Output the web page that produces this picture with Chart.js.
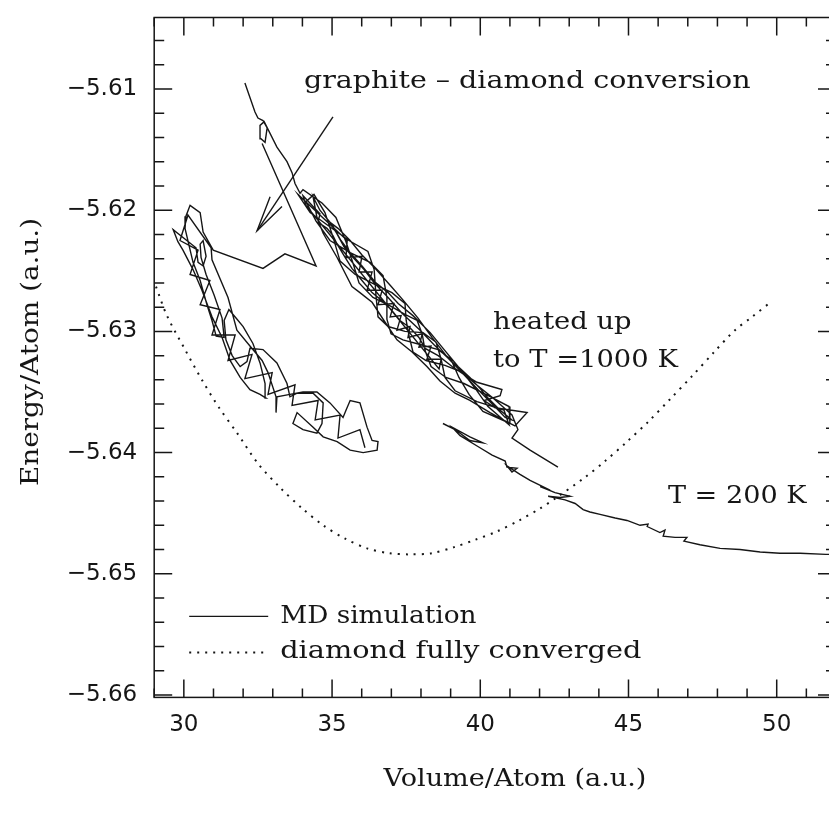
<!DOCTYPE html>
<html>
<head>
<meta charset="utf-8">
<title>Graphite - diamond conversion</title>
<script src="https://cdn.jsdelivr.net/npm/chart.js@4.4.1/dist/chart.umd.min.js"></script>
<style>
  html, body { margin: 0; padding: 0; background: #fff; overflow: hidden; }
  #wrap { width: 829px; height: 818px; overflow: hidden; }
  canvas { display: block; }
</style>
</head>
<body>
<div id="wrap"><canvas id="chart" width="850" height="818"></canvas></div>
<script>
// axis ticks
const xTickValues = [30, 35, 40, 45, 50];
const yTickValues = [-5.66, -5.65, -5.64, -5.63, -5.62, -5.61];

// MD run, upper band (graphite heated to 1000 K)
const mdUpper = [
  [32.06,-5.6095],[32.23,-5.6107],[32.40,-5.6119],[32.50,-5.6124],[32.67,-5.6126],[32.81,-5.6132],
  [32.74,-5.6144],[32.60,-5.6141],[32.57,-5.6130],[32.71,-5.6127],[33.14,-5.6148],[33.48,-5.6160],
  [33.65,-5.6169],[33.75,-5.6178],[33.92,-5.6186],
  [34.02,-5.6183],[34.66,-5.6194],[35.13,-5.6206],[35.47,-5.6226],[35.71,-5.6244],[35.91,-5.6260],
  [36.38,-5.6272],[36.96,-5.6279],[37.46,-5.6286],[37.87,-5.6291],[38.04,-5.6302],[38.14,-5.6316],
  [38.34,-5.6329],[38.84,-5.6338],[39.45,-5.6343],[40.19,-5.6352],[40.97,-5.6362],
  [41.00,-5.6376],[40.09,-5.6366],[39.62,-5.6352],[39.28,-5.6338],[39.01,-5.6323],[38.58,-5.6315],
  [38.00,-5.6311],[37.39,-5.6307],[36.99,-5.6302],[36.85,-5.6290],[36.85,-5.6272],[36.72,-5.6254],
  [36.28,-5.6243],[35.61,-5.6235],[34.93,-5.6225],[34.46,-5.6209],[34.12,-5.6193],
  [34.39,-5.6187],[34.76,-5.6202],[35.03,-5.6222],[35.27,-5.6242],[35.78,-5.6253],[36.42,-5.6261],
  [37.02,-5.6268],[37.46,-5.6277],[37.50,-5.6291],[37.60,-5.6304],[37.73,-5.6317],[38.17,-5.6324],
  [38.81,-5.6328],[39.42,-5.6334],[39.86,-5.6348],[40.26,-5.6362],[40.97,-5.6377],
  [40.80,-5.6365],[39.89,-5.6358],[39.15,-5.6349],[38.81,-5.6338],[38.68,-5.6323],[38.51,-5.6309],
  [38.07,-5.6301],[37.46,-5.6300],[36.89,-5.6296],[36.55,-5.6288],[36.48,-5.6270],[36.42,-5.6249],
  [36.21,-5.6234],[35.57,-5.6225],[34.83,-5.6212],[34.26,-5.6202],[33.85,-5.6187],
  [35.51,-5.6225],[35.47,-5.6239],[36.01,-5.6238],[35.91,-5.6251],[36.35,-5.6251],[36.18,-5.6266],
  [36.69,-5.6266],[36.55,-5.6278],[37.09,-5.6277],[36.96,-5.6288],[37.33,-5.6287],[37.19,-5.6299],
  [37.63,-5.6296],[37.56,-5.6305],[38.04,-5.6302],[37.93,-5.6313],[38.34,-5.6312],[38.20,-5.6323],
  [38.68,-5.6323],[38.61,-5.6331],
  [34.12,-5.6196],[34.02,-5.6188],[34.36,-5.6197],
  [34.59,-5.6203],[34.53,-5.6210],[34.83,-5.6215],[35.03,-5.6221],[35.17,-5.6228],[35.44,-5.6239],
  [35.67,-5.6248],[36.01,-5.6258],[36.35,-5.6268],[36.65,-5.6274],[36.99,-5.6282],[37.29,-5.6291],
  [37.63,-5.6297],[37.93,-5.6305],[38.14,-5.6314],[38.58,-5.6320],[39.05,-5.6329],[39.42,-5.6335],
  [39.89,-5.6342],[40.73,-5.6348],[40.67,-5.6353],[40.13,-5.6357],[40.50,-5.6363],[41.58,-5.6367],
  [41.17,-5.6378],[40.77,-5.6373],[40.33,-5.6367],[39.65,-5.6357],[39.15,-5.6351],[38.64,-5.6341],
  [38.20,-5.6329],[37.70,-5.6317],[37.19,-5.6307],[36.75,-5.6291],[36.35,-5.6276],[35.94,-5.6268],
  [35.67,-5.6263],[35.17,-5.6239],[34.70,-5.6219],[34.49,-5.6206],[34.36,-5.6189],[34.59,-5.6200],
  [35.00,-5.6212],[35.30,-5.6225],[35.61,-5.6235],[36.01,-5.6246],[36.48,-5.6260],[36.89,-5.6268],
  [37.23,-5.6277],[37.73,-5.6287],[38.31,-5.6301],[38.78,-5.6315],[39.25,-5.6329],[39.65,-5.6338],
  [39.99,-5.6347],[40.26,-5.6355],[40.67,-5.6365],[41.07,-5.6373],[40.84,-5.6371],[40.53,-5.6363],
  [39.92,-5.6348],[39.38,-5.6334],[38.91,-5.6322],[38.44,-5.6311],[37.97,-5.6299],[37.36,-5.6285],
  [36.89,-5.6272],[36.42,-5.6260],[36.08,-5.6249],[35.71,-5.6239],[35.40,-5.6230],[35.13,-5.6218],
  [34.93,-5.6210],[35.20,-5.6215],[35.61,-5.6225],[36.01,-5.6237],[36.45,-5.6248],[36.96,-5.6262],
  [37.39,-5.6274],[37.90,-5.6289],[38.37,-5.6305],[38.85,-5.6320],[39.32,-5.6332],[39.82,-5.6343],
  [40.43,-5.6355],[41.07,-5.6369],[41.27,-5.6381],[41.07,-5.6388],[41.68,-5.6398],[42.62,-5.6412]
];

// MD run, jump into the diamond region and the left cluster
const mdLeft = [
  [32.64,-5.6145],[34.46,-5.6246],[33.41,-5.6236],[32.67,-5.6248],[30.99,-5.6233],
  [30.65,-5.6218],[30.55,-5.6202],[30.21,-5.6196],[30.07,-5.6205],[30.04,-5.6215],[30.31,-5.6243],
  [30.55,-5.6258],[30.78,-5.6278],[30.95,-5.6291],[31.09,-5.6304],[31.36,-5.6305],[31.29,-5.6289],
  [31.02,-5.6270],[30.75,-5.6253],[30.58,-5.6239],[30.55,-5.6228],[30.65,-5.6225],[30.75,-5.6238],
  [30.65,-5.6246],[30.48,-5.6243],[30.41,-5.6231],[29.64,-5.6216],[29.80,-5.6226],[29.97,-5.6233],
  [30.31,-5.6249],[30.61,-5.6266],[30.95,-5.6288],[31.29,-5.6305],[31.56,-5.6324],[31.90,-5.6338],
  [32.23,-5.6348],[32.57,-5.6352],[32.77,-5.6355],[32.74,-5.6343],[32.57,-5.6326],[32.33,-5.6310],
  [32.00,-5.6296],[31.76,-5.6289],[31.52,-5.6282],[31.36,-5.6291],[31.42,-5.6307],[31.63,-5.6320],
  [31.90,-5.6329],[32.13,-5.6325],[32.23,-5.6314],[32.67,-5.6315],[33.14,-5.6326],[33.48,-5.6343],
  [33.58,-5.6354],[33.82,-5.6351],[34.36,-5.6351],[34.70,-5.6359],[34.66,-5.6376],[34.49,-5.6384],
  [34.02,-5.6381],[33.68,-5.6376],[33.82,-5.6367],[34.36,-5.6379],[34.70,-5.6387],[35.17,-5.6391],
  [35.61,-5.6398],[36.05,-5.6400],[36.52,-5.6398],[36.55,-5.6391],[36.35,-5.6390],[36.18,-5.6379],
  [35.94,-5.6359],[35.61,-5.6357],[35.47,-5.6365],[35.37,-5.6371],[34.93,-5.6359],[34.49,-5.6350],
  [34.02,-5.6350],[33.58,-5.6352],[33.14,-5.6354],[33.11,-5.6367],[33.11,-5.6354],[32.84,-5.6334],
  [32.64,-5.6324],[32.23,-5.6312],[31.79,-5.6299],[31.49,-5.6272],[30.95,-5.6241],[30.92,-5.6231],
  [30.14,-5.6204],[29.87,-5.6225],[30.48,-5.6233],[30.21,-5.6253],[30.88,-5.6258],[30.55,-5.6278],
  [31.22,-5.6282],[30.95,-5.6303],[31.73,-5.6303],[31.49,-5.6324],[32.30,-5.6319],[32.06,-5.6339],
  [32.98,-5.6334],[32.84,-5.6352],[33.75,-5.6344],[33.65,-5.6361],[34.53,-5.6357],[34.43,-5.6373],
  [35.27,-5.6369],[35.20,-5.6388],[35.94,-5.6381],[36.11,-5.6396]
];

// MD run, cooled to T = 200 K
const mdLower = [
  [38.74,-5.6376],[39.15,-5.6381],[39.65,-5.6390],[40.09,-5.6392],[39.65,-5.6387],[39.05,-5.6379],
  [39.32,-5.6386],[39.92,-5.6395],[40.40,-5.6402],[40.84,-5.6407],[40.90,-5.6412],[41.24,-5.6413],
  [41.07,-5.6416],[40.90,-5.6411],[41.34,-5.6418],[41.68,-5.6423],[42.18,-5.6429],[42.02,-5.6428],
  [42.52,-5.6433],[43.03,-5.6436],[42.69,-5.6437],[42.29,-5.6436],[42.86,-5.6439],[43.20,-5.6442],
  [43.47,-5.6447],[43.70,-5.6449],[44.04,-5.6451],[44.55,-5.6454],[44.95,-5.6456],[45.39,-5.6460],
  [45.66,-5.6459],[45.63,-5.6461],[46.06,-5.6466],[46.23,-5.6464],[46.17,-5.6469],[46.57,-5.6470],
  [46.97,-5.6470],[46.87,-5.6473],[47.41,-5.6476],[48.09,-5.6479],[48.76,-5.6480],[49.44,-5.6482],
  [50.11,-5.6483],[50.79,-5.6483],[51.66,-5.6484],[52.00,-5.6484]
];

// diamond, fully converged
const diamondV = [29.06, 29.43, 30.04, 30.61, 31.19, 31.80, 32.50, 33.25, 33.99, 34.70, 35.44,
  36.18, 36.92, 37.63, 38.37, 39.12, 39.82, 40.57, 41.31, 42.02, 42.52, 43.50, 44.21, 44.95,
  45.69, 46.40, 47.14, 47.89, 48.59, 49.17, 49.84];
const diamondE = [-5.6263, -5.6287, -5.6315, -5.6340, -5.6363, -5.6384, -5.6409, -5.6429, -5.6446,
  -5.6460, -5.6471, -5.6479, -5.6483, -5.6484, -5.6483, -5.6478, -5.6472, -5.6465, -5.6456,
  -5.6446, -5.6438, -5.6421, -5.6407, -5.6391, -5.6374, -5.6356, -5.6337, -5.6317, -5.6299,
  -5.6288, -5.6275];

// annotation arrow
const arrowShaft = [[35.03,-5.6123],[32.47,-5.6217]];
const arrowHead = [[32.91,-5.6189],[32.47,-5.6217],[33.31,-5.6197]];

// text notes, anchored at left/baseline in data units
const notes = [
  { text: 'graphite \u2013 diamond conversion', v: 34.05, e: -5.6099 },
  { text: 'heated up', v: 40.43, e: -5.6298 },
  { text: 'to T =1000 K', v: 40.43, e: -5.6329 },
  { text: 'T = 200 K', v: 46.33, e: -5.6442 }
];

const ink = '#161616';
const typeFont = '24px "DejaVu Serif", serif';
const toXY = arr => arr.map(p => ({ x: p[0], y: p[1] }));

function mdSet(arr) {
  return {
    data: toXY(arr),
    showLine: true,
    borderColor: ink,
    borderWidth: 1.4,
    pointRadius: 0,
    tension: 0
  };
}

// serif text stretched to the even pitch of the typewriter face in the original
function typeText(ctx, text, x, y, align, pitch) {
  ctx.save();
  ctx.font = typeFont;
  const w = ctx.measureText(text).width;
  const sx = (text.length * (pitch || 15.4)) / w;
  ctx.translate(x, y);
  ctx.scale(sx, 1);
  ctx.textAlign = align || 'left';
  ctx.textBaseline = 'alphabetic';
  ctx.fillText(text, 0, 0);
  ctx.restore();
}

const frame = {
  id: 'frame',
  afterDatasetsDraw(chart) {
    const { ctx, chartArea: a, scales: { x, y } } = chart;
    ctx.save();
    ctx.strokeStyle = ink;
    ctx.fillStyle = ink;
    ctx.lineWidth = 1.5;
    ctx.strokeRect(a.left, a.top, a.right - a.left, a.bottom - a.top);

    // inward ticks on all four sides
    ctx.beginPath();
    for (let v = 29; v <= 52; v++) {
      const px = x.getPixelForValue(v);
      const len = v % 5 === 0 ? 18 : 9;
      ctx.moveTo(px, a.bottom); ctx.lineTo(px, a.bottom - len);
      ctx.moveTo(px, a.top); ctx.lineTo(px, a.top + len);
    }
    for (let i = 0; i <= 30; i++) {
      const py = y.getPixelForValue(-5.66 + i * 0.002);
      if (py < a.top || py > a.bottom) continue;
      const len = i % 5 === 0 ? 18 : 10;
      ctx.moveTo(a.left, py); ctx.lineTo(a.left + len, py);
      ctx.moveTo(a.right, py); ctx.lineTo(a.right - len, py);
    }
    ctx.stroke();

    // notes
    notes.forEach(n => typeText(ctx, n.text, x.getPixelForValue(n.v), y.getPixelForValue(n.e)));

    // legend, lower left inside the frame
    const lx0 = a.left + 35, lx1 = a.left + 114, tx = a.left + 126;
    ctx.lineWidth = 1.4;
    ctx.beginPath();
    ctx.moveTo(lx0, a.bottom - 81); ctx.lineTo(lx1, a.bottom - 81);
    ctx.stroke();
    ctx.setLineDash([2, 6]);
    ctx.lineWidth = 2;
    ctx.beginPath();
    ctx.moveTo(lx0, a.bottom - 45); ctx.lineTo(lx1, a.bottom - 45);
    ctx.stroke();
    ctx.setLineDash([]);
    typeText(ctx, 'MD simulation', tx, a.bottom - 74, 'left', 15.1);
    typeText(ctx, 'diamond fully converged', tx, a.bottom - 39, 'left', 15.7);

    // axis titles
    typeText(ctx, 'Volume/Atom (a.u.)', 515, 786, 'center', 14.6);
    ctx.translate(38, 352);
    ctx.rotate(-Math.PI / 2);
    typeText(ctx, 'Energy/Atom (a.u.)', 0, 0, 'center', 14.9);
    ctx.restore();
  }
};

new Chart(document.getElementById('chart'), {
  type: 'scatter',
  data: {
    datasets: [
      {
        data: diamondV.map((v, i) => ({ x: v, y: diamondE[i] })),
        showLine: true,
        borderColor: ink,
        borderWidth: 2,
        borderDash: [2, 6],
        pointRadius: 0,
        tension: 0.3
      },
      mdSet(mdUpper),
      mdSet(mdLeft),
      mdSet(mdLower),
      mdSet(arrowShaft),
      mdSet(arrowHead)
    ]
  },
  plugins: [frame],
  options: {
    responsive: false,
    animation: false,
    devicePixelRatio: 1,
    layout: { padding: { left: 0, right: 14, top: 17.5, bottom: 0 } },
    plugins: { legend: { display: false }, tooltip: { enabled: false } },
    scales: {
      x: {
        type: 'linear',
        min: 29,
        max: 52,
        grid: { display: false, drawTicks: false },
        border: { display: false },
        afterBuildTicks: s => { s.ticks = xTickValues.map(v => ({ value: v })); },
        afterFit: s => { s.height = 120.6; s.paddingLeft = 0; s.paddingRight = 0; },
        ticks: {
          padding: 14,
          maxRotation: 0,
          color: ink,
          font: { family: '"DejaVu Sans", sans-serif', size: 23 },
          callback: v => String(v)
        }
      },
      y: {
        type: 'linear',
        min: -5.6602,
        max: -5.6041,
        grid: { display: false, drawTicks: false },
        border: { display: false },
        afterBuildTicks: s => { s.ticks = yTickValues.map(v => ({ value: v })); },
        afterFit: s => { s.width = 154.2; s.paddingTop = 0; s.paddingBottom = 0; },
        ticks: {
          padding: 17,
          color: ink,
          font: { family: '"DejaVu Sans", sans-serif', size: 23 },
          callback: v => '\u2212' + Math.abs(v).toFixed(2)
        }
      }
    }
  }
});
</script>
</body>
</html>
